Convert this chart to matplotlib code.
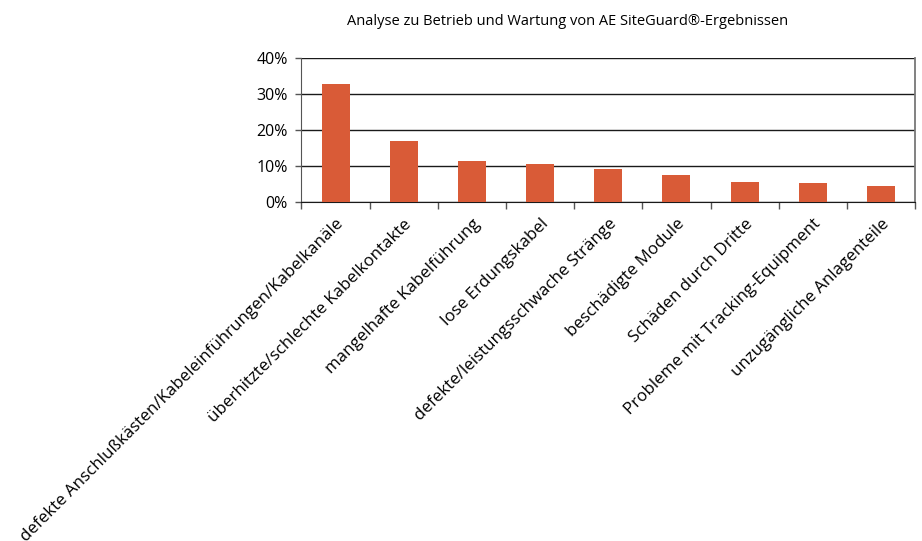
import matplotlib
matplotlib.use("Agg")
from matplotlib import pyplot as plt
from matplotlib.ticker import MultipleLocator, PercentFormatter
import numpy as np

plt.rcParams['font.family'] = ['Open Sans', 'DejaVu Sans']

categories = [
    "defekte Anschlußkästen/Kabeleinführungen/Kabelkanäle",
    "überhitzte/schlechte Kabelkontakte",
    "mangelhafte Kabelführung",
    "lose Erdungskabel",
    "defekte/leistungsschwache Stränge",
    "beschädigte Module",
    "Schäden durch Dritte",
    "Probleme mit Tracking-Equipment",
    "unzugängliche Anlagenteile",
]
shares = [32.8, 17.0, 11.4, 10.6, 9.2, 7.5, 5.6, 5.3, 4.5]

fig = plt.figure(figsize=(9.22, 5.41), dpi=100)
ax = fig.add_axes([0.327, 0.626, 0.6655, 0.267])

x = np.arange(len(categories))
ax.bar(x, shares, width=0.41, color="#d95b37", zorder=3)

ax.set_xlim(-0.5, len(categories) - 0.5)
ax.set_ylim(0, 40)
ax.yaxis.set_major_locator(MultipleLocator(10))
ax.yaxis.set_major_formatter(PercentFormatter(decimals=0))
ax.grid(axis="y", color="#1a1a1a", linewidth=1.0, zorder=1)

ax.set_xticks(x)
ax.set_xticklabels(categories, rotation=45, ha="right", rotation_mode="anchor", fontsize=12.2)
ax.tick_params(axis="x", length=0, pad=10)
ax.set_xticks(np.arange(len(categories) + 1) - 0.5, minor=True)
ax.tick_params(axis="x", which="minor", length=5, width=1.0, color="#555555")
ax.tick_params(axis="y", length=4, width=1.0, color="#555555", labelsize=11.5, pad=6)

ax.spines["top"].set_visible(False)
ax.spines["left"].set_color("#555555")
ax.spines["right"].set_color("#777777")
ax.spines["right"].set_linewidth(1.3)
ax.spines["bottom"].set_color("#1a1a1a")

fig.suptitle("Analyse zu Betrieb und Wartung von AE SiteGuard®-Ergebnissen",
             x=0.616, y=0.975, fontsize=10.5)

fig.savefig("out.png", dpi=100)
